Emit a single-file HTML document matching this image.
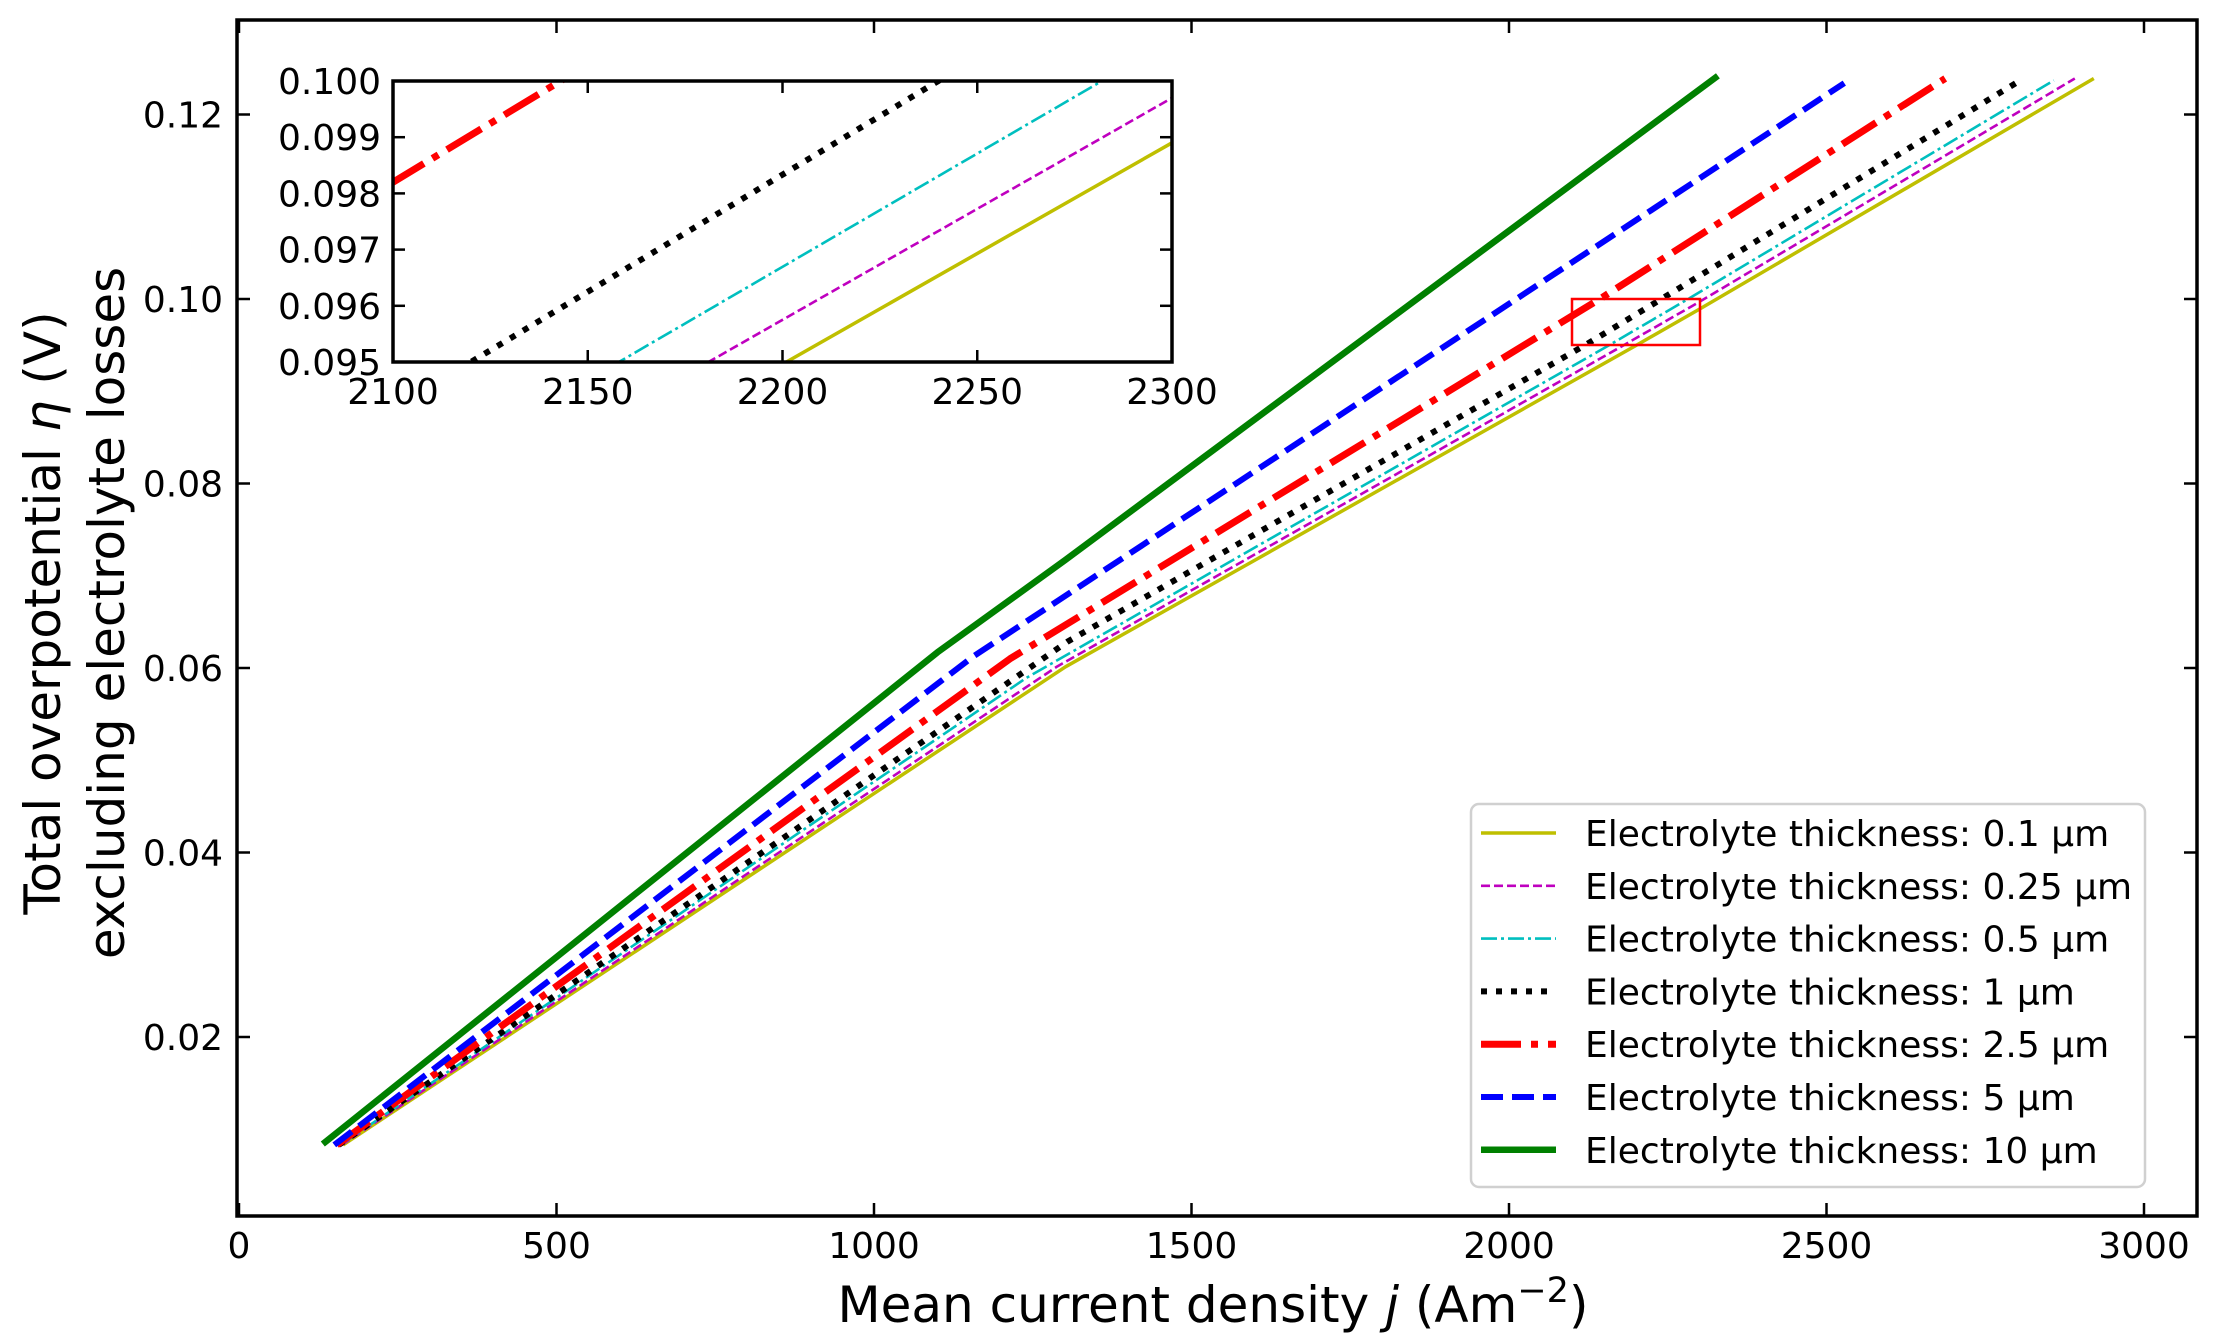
<!DOCTYPE html>
<html><head><meta charset="utf-8">
<style>
html,body{margin:0;padding:0;background:#fff;width:2214px;height:1341px;overflow:hidden;}
svg{display:block;}
text{font-family:"DejaVu Sans","Liberation Sans",sans-serif;fill:#000;}
</style></head>
<body>
<svg id="s" width="2214" height="1341" viewBox="0 0 2214 1341" xmlns="http://www.w3.org/2000/svg">
<defs>
<clipPath id="cm"><rect x="237" y="20" width="1960" height="1196"/></clipPath>
<clipPath id="ci"><rect x="393" y="81" width="779" height="281"/></clipPath>
</defs>
<rect x="0" y="0" width="2214" height="1341" fill="#fff"/>
<g id="main" clip-path="url(#cm)"></g>
<rect x="1572" y="299" width="128" height="46" fill="none" stroke="#ff0000" stroke-width="2.5"/>
<rect x="237" y="20" width="1960" height="1196" fill="none" stroke="#000" stroke-width="3.5"/>
<g id="axes"></g>
<rect x="393" y="81" width="779" height="281" fill="#fff"/>
<g id="inset" clip-path="url(#ci)"></g>
<rect x="393" y="81" width="779" height="281" fill="none" stroke="#000" stroke-width="3.5"/>
<g id="iaxes"></g>
<text x="1213" y="1322" font-size="50" text-anchor="middle">Mean current density <tspan font-style="italic">j</tspan> (Am<tspan dy="-20" font-size="35">−2</tspan><tspan dy="20">)</tspan></text>
<text transform="translate(60,613) rotate(-90)" font-size="50" text-anchor="middle">Total overpotential <tspan font-style="italic">η</tspan> (V)</text>
<text transform="translate(124,613) rotate(-90)" font-size="50" text-anchor="middle">excluding electrolyte losses</text>
<rect x="1471" y="804" width="674" height="383" rx="8" fill="#fff" fill-opacity="0.8" stroke="#d0d0d0" stroke-width="2.5"/>
<g id="leg"></g>
</svg>
<script>
var NS="http://www.w3.org/2000/svg";
function el(t,a,p,txt){var e=document.createElementNS(NS,t);for(var k in a)e.setAttribute(k,a[k]);if(txt!==undefined)e.textContent=txt;p.appendChild(e);return e;}
function X(j){return 239+j*0.635;} function Y(v){return 1037-(v-0.02)*9225;}
function IX(j){return 393+(j-2100)*779/200;} function IY(v){return 362-(v-0.095)*281/0.005;}
function inter(a,b,c,d){var m1=(b[1]-a[1])/(b[0]-a[0]),m2=(d[1]-c[1])/(d[0]-c[0]);var j=(c[1]-a[1]+m1*a[0]-m2*c[0])/(m1-m2);return [j,a[1]+m1*(j-a[0])];}
var S=[
 {c:"#bfbf00",w:3.5,d:"",st:[164,0.0083],p1:[1009,0.0468],top:[1600,0.0717],ins:[[2201,0.095],[2300,0.0989]],end:[2921,0.1239],lab:"0.1 µm"},
 {c:"#bf00bf",w:2.6,d:"9 4",st:[162,0.0083],p1:[1009,0.0473],top:[1584,0.0717],ins:[[2181,0.095],[2300,0.0997]],end:[2891,0.1239],lab:"0.25 µm"},
 {c:"#00bfbf",w:2.6,d:"16 4 3 4",st:[160,0.0083],p1:[1009,0.0481],top:[1565,0.0717],ins:[[2158,0.095],[2282,0.1]],end:[2858,0.1237],lab:"0.5 µm"},
 {c:"#000000",w:6,d:"6 9",st:[157,0.0083],p1:[1009,0.0488],top:[1529,0.0717],ins:[[2120,0.095],[2240,0.1]],end:[2805,0.1237],lab:"1 µm"},
 {c:"#ff0000",w:7,d:"40 10 7 10",st:[154,0.0083],p1:[1009,0.0508],top:[1469,0.0717],ins:[[2100,0.0982],[2143,0.1]],end:[2687,0.1239],lab:"2.5 µm"},
 {c:"#0000ff",w:6,d:"22 9",st:[150,0.0083],p1:[1009,0.0535],top:[1387,0.0717],ins:[],end:[2528,0.1234],lab:"5 µm"},
 {c:"#008000",w:6.5,d:"",st:[132,0.0084],p1:[1009,0.0565],k:[1100,0.0617],top:[1301,0.0717],ins:[],end:[2329,0.1242],lab:"10 µm"}
];
var gm=document.getElementById("main"),gi=document.getElementById("inset");
S.forEach(function(s){
 var nxt=s.ins.length?s.ins[0]:s.end;
 var k=s.k||inter(s.st,s.p1,s.top,nxt);
 var pts=[s.st,k,s.top].concat(s.ins).concat([s.end]);
 var a={fill:"none",stroke:s.c,"stroke-width":s.w,"stroke-linejoin":"round"};
 if(s.d)a["stroke-dasharray"]=s.d;
 var p=JSON.parse(JSON.stringify(a));p.points=pts.map(function(q){return X(q[0]).toFixed(1)+","+Y(q[1]).toFixed(1);}).join(" ");
 el("polyline",p,gm);
 var q=JSON.parse(JSON.stringify(a));q.points=pts.map(function(r){return IX(r[0]).toFixed(1)+","+IY(r[1]).toFixed(1);}).join(" ");
 el("polyline",q,gi);
});
var ga=document.getElementById("axes");
[0,500,1000,1500,2000,2500,3000].forEach(function(j){var x=X(j);
 el("line",{x1:x,y1:1216,x2:x,y2:1203,stroke:"#000","stroke-width":2.5},ga);
 el("line",{x1:x,y1:20,x2:x,y2:33,stroke:"#000","stroke-width":2.5},ga);
 el("text",{x:x,y:1258,"font-size":36,"text-anchor":"middle"},ga,String(j));});
[0.02,0.04,0.06,0.08,0.10,0.12].forEach(function(v){var y=Y(v);
 el("line",{x1:237,y1:y,x2:250,y2:y,stroke:"#000","stroke-width":2.5},ga);
 el("line",{x1:2197,y1:y,x2:2184,y2:y,stroke:"#000","stroke-width":2.5},ga);
 el("text",{x:223,y:y+13,"font-size":36,"text-anchor":"end"},ga,v.toFixed(2));});
var gx=document.getElementById("iaxes");
[2100,2150,2200,2250,2300].forEach(function(j){var x=IX(j);
 el("line",{x1:x,y1:362,x2:x,y2:350,stroke:"#000","stroke-width":2.5},gx);
 el("line",{x1:x,y1:81,x2:x,y2:93,stroke:"#000","stroke-width":2.5},gx);
 el("text",{x:x,y:404,"font-size":36,"text-anchor":"middle"},gx,String(j));});
[0.095,0.096,0.097,0.098,0.099,0.100].forEach(function(v){var y=IY(v);
 el("line",{x1:393,y1:y,x2:405,y2:y,stroke:"#000","stroke-width":2.5},gx);
 el("line",{x1:1172,y1:y,x2:1160,y2:y,stroke:"#000","stroke-width":2.5},gx);
 el("text",{x:381,y:y+13,"font-size":36,"text-anchor":"end"},gx,v.toFixed(3));});
var gl=document.getElementById("leg");
S.forEach(function(s,i){var y=833+i*52.8;
 var a={x1:1481,y1:y,x2:1556,y2:y,stroke:s.c,"stroke-width":s.w};if(s.d)a["stroke-dasharray"]=s.d;
 el("line",a,gl);
 el("text",{x:1585,y:y+13,"font-size":36},gl,"Electrolyte thickness: "+s.lab);});
</script>
</body></html>
